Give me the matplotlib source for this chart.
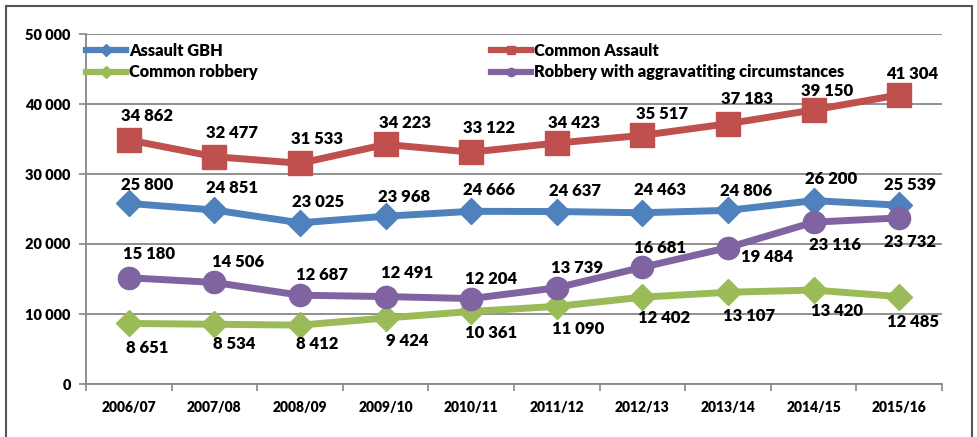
import matplotlib
matplotlib.use("Agg")
import matplotlib.pyplot as plt
from matplotlib.patches import Rectangle
from matplotlib.ticker import FuncFormatter

plt.rcParams['font.family'] = ['Lato', 'DejaVu Sans']
plt.rcParams['font.weight'] = 'heavy'

years = ["2006/07", "2007/08", "2008/09", "2009/10", "2010/11",
         "2011/12", "2012/13", "2013/14", "2014/15", "2015/16"]

assault_gbh = [25800, 24851, 23025, 23968, 24666, 24637, 24463, 24806, 26200, 25539]
common_assault = [34862, 32477, 31533, 34223, 33122, 34423, 35517, 37183, 39150, 41304]
common_robbery = [8651, 8534, 8412, 9424, 10361, 11090, 12402, 13107, 13420, 12485]
robbery_aggr = [15180, 14506, 12687, 12491, 12204, 13739, 16681, 19484, 23116, 23732]

# label offsets in pixels (dx, dy), dy positive = up
off_gbh = [(18, 18), (18, 22), (18, 21), (18, 19), (18, 21), (18, 21), (18, 23), (18, 19), (18, 22), (11, 20)]
off_ca = [(18, 24), (18, 24), (17, 24), (19, 21), (18, 24), (17, 20), (20, 21), (19, 25), (14, 19), (13, 21)]
off_cr = [(18, -25), (20, -20), (17, -19), (22, -23), (20, -22), (21, -23), (22, -21), (21, -24), (23, -21), (14, -25)]
off_ra = [(20, 24), (24, 20), (22, 20), (21, 24), (20, 20), (20, 20), (18, 19), (39, -9), (21, -23), (11, -24)]

blue = "#4F81BD"
red = "#C0504D"
green = "#9BBB59"
purple = "#8064A2"
grid = "#878787"

fig = plt.figure(figsize=(9.78, 4.37), dpi=100)
ax = fig.add_axes([86/978, 1-384/437, 856/978, 350/437])

x = list(range(len(years)))
ax.plot(x, assault_gbh, color=blue, lw=5, marker="D", ms=13, zorder=3)
ax.plot(x, common_assault, color=red, lw=5, marker="s", ms=17, zorder=3)
ax.plot(x, common_robbery, color=green, lw=5, marker="D", ms=13, zorder=3)
ax.plot(x, robbery_aggr, color=purple, lw=5, marker="o", ms=16, zorder=3)

def fmt(v):
    return f"{v:,}".replace(",", " ")

for vals, offs in [(assault_gbh, off_gbh), (common_assault, off_ca),
                   (common_robbery, off_cr), (robbery_aggr, off_ra)]:
    for i, v in enumerate(vals):
        dx, dy = offs[i]
        ax.annotate(fmt(v), (i, v), xytext=(dx*0.72, dy*0.72), textcoords="offset points",
                    ha="center", va="center", fontsize=12, color="black", zorder=4)

ax.set_xlim(-0.5, 9.5)
ax.set_ylim(0, 50000)
ax.set_yticks(range(0, 50001, 10000))
ax.yaxis.set_major_formatter(FuncFormatter(lambda v, p: fmt(int(v))))
ax.set_xticks([i - 0.5 for i in range(11)])
ax.set_xticklabels([])
ax.set_xticks(x, minor=True)
ax.set_xticklabels(years, minor=True)
ax.tick_params(axis="x", which="major", length=5, color=grid, width=1.2)
ax.tick_params(axis="x", which="minor", length=0, pad=12, labelsize=10)
ax.tick_params(axis="y", length=5, color=grid, width=1.2, labelsize=10.5, pad=6)

ax.grid(axis="y", color=grid, lw=1.3)
ax.set_axisbelow(True)
for s in ["top", "right"]:
    ax.spines[s].set_visible(False)
for s in ["left", "bottom"]:
    ax.spines[s].set_color(grid)
    ax.spines[s].set_linewidth(1.3)

def handle(color, marker):
    h, = ax.plot([], [], color=color, lw=4.5, marker=marker, ms=6)
    return h

leg_kw = dict(frameon=False, fontsize=11.8, handlelength=2.45, handletextpad=0.2,
              labelspacing=0.35, borderaxespad=0, borderpad=0, loc="upper left")
leg1 = ax.legend([handle(blue, "D"), handle(green, "D")], ["Assault GBH", "Common robbery"],
                 bbox_to_anchor=(0.0, 0.975), **leg_kw)
ax.add_artist(leg1)
ax.legend([handle(red, "s"), handle(purple, "o")],
          ["Common Assault", "Robbery with aggravatiting circumstances"],
          bbox_to_anchor=(405/856, 0.975), **leg_kw)

fig.add_artist(Rectangle((6/978, -0.1), 966/978, 1.1 - 6/437, transform=fig.transFigure,
                         fill=False, edgecolor="#555555", lw=1.5, clip_on=False))

fig.savefig("out.png", dpi=100)
